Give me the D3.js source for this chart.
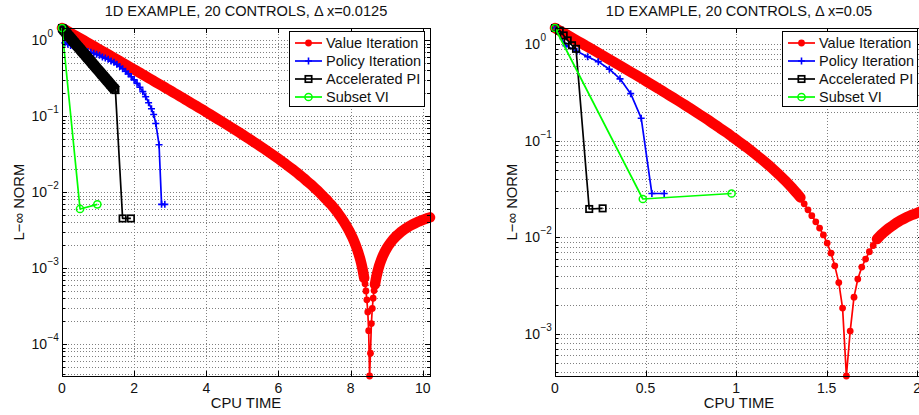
<!DOCTYPE html>
<html><head><meta charset="utf-8">
<script src="https://cdn.jsdelivr.net/npm/d3@7"></script>
<style>
body{margin:0;background:#fff}
svg{display:block}
text{font-family:"Liberation Sans",Arial,Helvetica,sans-serif;fill:#111}
</style>
</head><body>
<svg id="chart" width="919" height="415"></svg>
<script>
// ---------------- DATA ----------------
const legendLabels = ["Value Iteration", "Policy Iteration", "Accelerated PI", "Subset VI"];
const titles = ["1D EXAMPLE, 20 CONTROLS, \u0394 x=0.0125", "1D EXAMPLE, 20 CONTROLS, \u0394 x=0.05"];
const xLabel = "CPU TIME";
const yLabel = "L\u2212\u221e NORM";
const xTicksA = [0, 2, 4, 6, 8, 10];
const xTickLabelsA = ["0", "2", "4", "6", "8", "10"];
const xTicksB = [0, 0.5, 1, 1.5, 2];
const xTickLabelsB = ["0", "0.5", "1", "1.5", "2"];
const yExpA = [-4, -3, -2, -1, 0];
const yExpB = [-3, -2, -1, 0];

// Panel A (dx = 0.0125): [cpu time, L-inf norm]
const valueIterA = [[0,1.444],[0.1,1.356],[0.2,1.274],[0.3,1.197],[0.4,1.124],[0.5,1.056],[0.6,0.992],[0.7,0.931],[0.8,0.875],[0.9,0.821],[1.0,0.771],[1.1,0.724],[1.2,0.680],[1.3,0.639],[1.4,0.600],[1.5,0.563],[1.6,0.529],[1.7,0.496],[1.8,0.466],[1.9,0.437],[2.0,0.411],[2.1,0.385],[2.2,0.362],[2.3,0.339],[2.4,0.318],[2.5,0.299],[2.6,0.280],[2.7,0.263],[2.8,0.247],[2.9,0.231],[3.0,0.217],[3.1,0.203],[3.2,0.191],[3.3,0.179],[3.4,0.167],[3.5,0.157],[3.6,0.147],[3.7,0.138],[3.8,0.129],[3.9,0.121],[4.0,0.113],[4.1,0.1058],[4.2,0.0990],[4.3,0.0926],[4.4,0.0865],[4.5,0.0809],[4.6,0.0756],[4.7,0.0706],[4.8,0.0659],[4.9,0.0615],[5.0,0.0573],[5.1,0.0534],[5.2,0.0498],[5.3,0.0463],[5.4,0.0431],[5.5,0.0401],[5.6,0.0372],[5.7,0.0345],[5.8,0.0320],[5.9,0.0296],[6.0,0.0274],[6.1,0.0253],[6.2,0.0234],[6.3,0.0215],[6.4,0.0198],[6.5,0.0182],[6.6,0.0166],[6.7,0.0152],[6.8,0.0138],[6.9,0.0126],[7.0,0.0114],[7.1,0.0103],[7.2,0.0092],[7.3,0.0082],[7.35,0.00784],[7.4,0.0073],[7.45,0.00693],[7.5,0.0065],[7.55,0.00608],[7.6,0.00567],[7.65,0.00528],[7.7,0.00489],[7.75,0.00452],[7.8,0.00416],[7.85,0.00381],[7.9,0.00348],[7.95,0.00315],[8.0,0.00283],[8.05,0.00253],[8.1,0.00223],[8.125,0.00208],[8.15,0.00194],[8.175,0.0018],[8.2,0.00166],[8.225,0.00152],[8.25,0.00139],[8.275,0.00126],[8.3,0.00113],[8.325,0.000996],[8.35,0.000869],[8.375,0.000744],[8.4,0.000621],[8.425,0.0005],[8.45,0.000382],[8.475,0.000265],[8.5,0.00015],[8.525,0.000038],[8.55,0.0000759],[8.575,0.000186],[8.6,0.000294],[8.625,0.000401],[8.65,0.000506],[8.675,0.000609],[8.7,0.000711],[8.725,0.000811],[8.75,0.00091],[8.775,0.001007],[8.8,0.001102],[8.825,0.001196],[8.85,0.001289],[8.875,0.00138],[8.9,0.00147],[8.95,0.001647],[9.0,0.001816],[9.05,0.001982],[9.1,0.002141],[9.15,0.002297],[9.2,0.002446],[9.25,0.002593],[9.3,0.002732],[9.4,0.003002],[9.5,0.003255],[9.6,0.003494],[9.7,0.003717],[9.8,0.003927],[9.9,0.004124],[10.0,0.00431],[10.1,0.004484],[10.2,0.004648]];
const policyIterA = [[0,1.444],[0.08,0.92],[0.16,0.88],[0.24,0.85],[0.32,0.83],[0.4,0.8],[0.48,0.78],[0.56,0.76],[0.64,0.73],[0.72,0.71],[0.8,0.69],[0.88,0.67],[0.96,0.65],[1.04,0.63],[1.12,0.6],[1.2,0.58],[1.28,0.56],[1.36,0.53],[1.44,0.51],[1.52,0.48],[1.6,0.45],[1.68,0.42],[1.76,0.39],[1.84,0.36],[1.92,0.33],[2.0,0.3],[2.08,0.27],[2.16,0.24],[2.24,0.21],[2.32,0.18],[2.4,0.15],[2.48,0.125],[2.54,0.105],[2.6,0.08],[2.69,0.042],[2.76,0.0069],[2.85,0.0069]];
const accelPIA = [[0,1.444],[0.05,1.351],[0.1,1.268],[0.15,1.19],[0.2,1.117],[0.25,1.048],[0.3,0.983],[0.35,0.923],[0.4,0.866],[0.45,0.813],[0.5,0.763],[0.55,0.716],[0.6,0.672],[0.65,0.631],[0.7,0.592],[0.75,0.556],[0.8,0.522],[0.85,0.489],[0.9,0.459],[0.95,0.431],[1.0,0.405],[1.05,0.38],[1.1,0.356],[1.15,0.334],[1.2,0.314],[1.25,0.294],[1.3,0.276],[1.35,0.259],[1.4,0.243],[1.45,0.229],[1.48,0.22],[1.68,0.0045],[1.91,0.0045]];
const subsetVIA = [[0,1.444],[0.5,0.006],[0.98,0.0069]];

// Panel B (dx = 0.05)
const valueIterB = [[0,1.48],[0.021,1.404],[0.042,1.333],[0.064,1.264],[0.085,1.2],[0.106,1.139],[0.127,1.08],[0.148,1.025],[0.169,0.972],[0.191,0.922],[0.212,0.875],[0.233,0.829],[0.254,0.787],[0.275,0.746],[0.296,0.707],[0.318,0.67],[0.339,0.635],[0.36,0.602],[0.381,0.57],[0.402,0.54],[0.423,0.512],[0.445,0.485],[0.466,0.459],[0.487,0.435],[0.508,0.411],[0.529,0.389],[0.55,0.368],[0.572,0.348],[0.593,0.329],[0.614,0.311],[0.635,0.294],[0.656,0.278],[0.677,0.263],[0.699,0.248],[0.72,0.234],[0.741,0.221],[0.762,0.208],[0.783,0.196],[0.804,0.185],[0.826,0.174],[0.847,0.164],[0.868,0.154],[0.889,0.145],[0.91,0.136],[0.931,0.128],[0.953,0.12],[0.974,0.112],[0.995,0.105],[1.016,0.0983],[1.037,0.0918],[1.059,0.0857],[1.08,0.0798],[1.101,0.0743],[1.122,0.069],[1.143,0.0641],[1.164,0.0593],[1.186,0.0548],[1.207,0.0505],[1.228,0.0464],[1.249,0.0425],[1.27,0.0389],[1.291,0.0354],[1.313,0.032],[1.334,0.0289],[1.355,0.0259],[1.376,0.0223],[1.397,0.0193],[1.418,0.0168],[1.44,0.0145],[1.461,0.0125],[1.482,0.0106],[1.503,0.00873],[1.524,0.00687],[1.545,0.00507],[1.567,0.0034],[1.588,0.00185],[1.609,0.000366],[1.63,0.00107],[1.651,0.0024],[1.672,0.0037],[1.694,0.00492],[1.715,0.00596],[1.736,0.0071],[1.757,0.00824],[1.778,0.0096],[1.799,0.0106],[1.821,0.0115],[1.842,0.0124],[1.863,0.0132],[1.884,0.0141],[1.905,0.0149],[1.926,0.0156],[1.948,0.0164],[1.969,0.0171],[1.99,0.0176],[2.011,0.0183],[2.032,0.0189]];
const policyIterB = [[0,1.48],[0.06,0.97],[0.121,0.85],[0.18,0.747],[0.239,0.663],[0.3,0.554],[0.359,0.44],[0.418,0.309],[0.476,0.172],[0.535,0.0285],[0.603,0.0285]];
const accelPIB = [[0,1.48],[0.026,1.39],[0.048,1.24],[0.07,1.10],[0.094,0.98],[0.116,0.90],[0.189,0.0197],[0.263,0.02]];
const subsetVIB = [[0,1.48],[0.485,0.025],[0.975,0.0285]];

// ---------------- STYLE ----------------
// where markers are packed closer than the panel's band gap (px) they merge into a solid band
const styles = [
  {color:"#ff0000", marker:"dot",    bandWidth:10.5, cap:"round"},
  {color:"#0000ff", marker:"plus",   bandWidth:0,    cap:"round"},
  {color:"#000000", marker:"square", bandWidth:11.5, cap:"butt"},
  {color:"#00ff00", marker:"circle", bandWidth:0,    cap:"round"}
];

const svg = d3.select("#chart");

function drawMarker(g, type, color, px, py) {
  if (type === "dot") {
    g.append("circle").attr("cx", px).attr("cy", py).attr("r", 3.4).attr("fill", color);
  } else if (type === "plus") {
    const s = 3.5;
    g.append("path").attr("d", `M${px-s},${py}H${px+s}M${px},${py-s}V${py+s}`)
      .attr("stroke", color).attr("stroke-width", 1.6).attr("fill", "none");
  } else if (type === "square") {
    const s = 3.2;
    g.append("rect").attr("x", px-s).attr("y", py-s).attr("width", 2*s).attr("height", 2*s)
      .attr("fill", "none").attr("stroke", color).attr("stroke-width", 1.7);
  } else if (type === "circle") {
    g.append("circle").attr("cx", px).attr("cy", py).attr("r", 3.6)
      .attr("fill", "none").attr("stroke", color).attr("stroke-width", 1.5);
  }
}

function panel(cfg) {
  const g = svg.append("g");
  const all = cfg.series.flatMap(s => s);
  const x = d3.scaleLinear().domain([0, d3.max(all, d => d[0])]).range([cfg.l, cfg.r]);
  const y = d3.scaleLog().domain(d3.extent(all, d => d[1])).range([cfg.b, cfg.t]);
  const [ymin, ymax] = y.domain();
  const snap = v => Math.round(v) + 0.5;

  // grid (dotted, major + minor on log axis)
  const gridVals = [];
  for (let e = Math.floor(Math.log10(ymin)); e <= Math.ceil(Math.log10(ymax)); e++) {
    for (let k = 1; k <= 9; k++) {
      const v = k * Math.pow(10, e);
      if (v >= ymin && v <= ymax) gridVals.push({v, major: k === 1});
    }
  }
  const grid = g.append("g").attr("stroke", "#808080").attr("stroke-width", 1).attr("stroke-dasharray", "1,2");
  gridVals.forEach(d => {
    const yy = snap(y(d.v));
    grid.append("line").attr("x1", cfg.l).attr("x2", cfg.r).attr("y1", yy).attr("y2", yy);
  });
  cfg.xTicks.forEach(t => {
    if (t === 0) return;
    const xx = snap(x(t));
    grid.append("line").attr("x1", xx).attr("x2", xx).attr("y1", cfg.t).attr("y2", cfg.b);
  });

  // series
  cfg.series.forEach((data, i) => {
    const st = styles[i];
    const gap = cfg.bandGap[i];
    const pts = data.map(d => [x(d[0]), y(d[1])]);
    if (gap > 0) {
      const runs = [];
      let cur = null;
      for (let k = 1; k < pts.length; k++) {
        const len = Math.hypot(pts[k][0] - pts[k-1][0], pts[k][1] - pts[k-1][1]);
        if (len <= gap) {
          if (!cur) { cur = [pts[k-1]]; runs.push(cur); }
          cur.push(pts[k]);
        } else cur = null;
      }
      runs.forEach(r => {
        g.append("path").attr("d", d3.line()(r)).attr("fill", "none")
          .attr("stroke", st.color).attr("stroke-width", st.bandWidth)
          .attr("stroke-linecap", st.cap).attr("stroke-linejoin", "round");
      });
    }
    g.append("path").attr("d", d3.line()(pts)).attr("fill", "none")
      .attr("stroke", st.color).attr("stroke-width", 1.7).attr("stroke-linejoin", "round");
    const mg = g.append("g");
    pts.forEach(p => drawMarker(mg, st.marker, st.color, p[0], p[1]));
  });

  // axes box and ticks
  const ax = g.append("g").attr("stroke", "#000").attr("stroke-width", 1).attr("fill", "none");
  ax.append("rect").attr("x", snap(cfg.l)).attr("y", snap(cfg.t))
    .attr("width", Math.round(cfg.r) - Math.round(cfg.l)).attr("height", Math.round(cfg.b) - Math.round(cfg.t));
  cfg.xTicks.forEach(t => {
    const xx = snap(x(t));
    ax.append("line").attr("x1", xx).attr("x2", xx).attr("y1", cfg.b).attr("y2", cfg.b - 5);
    ax.append("line").attr("x1", xx).attr("x2", xx).attr("y1", cfg.t).attr("y2", cfg.t + 5);
  });
  gridVals.forEach(d => {
    const yy = snap(y(d.v));
    const len = d.major ? 5 : 3;
    ax.append("line").attr("x1", cfg.l).attr("x2", cfg.l + len).attr("y1", yy).attr("y2", yy);
    ax.append("line").attr("x1", cfg.r).attr("x2", cfg.r - len).attr("y1", yy).attr("y2", yy);
  });

  // tick labels
  cfg.xTicks.forEach((t, i) => {
    g.append("text").attr("x", x(t)).attr("y", cfg.b + 17).attr("text-anchor", "middle")
      .attr("font-size", 14).text(cfg.xTickLabels[i]);
  });
  const tenEnd = cfg.l - 15;
  cfg.yExp.forEach(e => {
    const yy = y(Math.pow(10, e));
    g.append("text").attr("x", tenEnd).attr("y", yy + 5).attr("text-anchor", "end")
      .attr("font-size", 14).text("10");
    g.append("text").attr("x", tenEnd + 0.5).attr("y", yy - 3).attr("text-anchor", "start")
      .attr("font-size", 10).text(e < 0 ? "\u2212" + (-e) : String(e));
  });

  // labels and title
  const cx = (cfg.l + cfg.r) / 2;
  g.append("text").attr("x", cx).attr("y", 16).attr("text-anchor", "middle").attr("font-size", 14.6).text(cfg.title);
  g.append("text").attr("x", cx).attr("y", 408).attr("text-anchor", "middle").attr("font-size", 14.8).text(xLabel);
  g.append("text").attr("transform", `translate(${cfg.l - 38},${(cfg.t + cfg.b) / 2}) rotate(-90)`)
    .attr("text-anchor", "middle").attr("font-size", 14.8).text(yLabel);

  // legend
  const bw = 135, bh = 75;
  const bx = Math.round(cfg.r - 6 - bw), by = Math.round(cfg.t + 3);
  const lg = g.append("g");
  lg.append("rect").attr("x", bx + 0.5).attr("y", by + 0.5).attr("width", bw).attr("height", bh)
    .attr("fill", "#fff").attr("stroke", "#000");
  legendLabels.forEach((lab, i) => {
    const cy = by + 12 + i * 18;
    const st = styles[i];
    lg.append("line").attr("x1", bx + 6).attr("x2", bx + 33).attr("y1", cy).attr("y2", cy)
      .attr("stroke", st.color).attr("stroke-width", 1.7);
    drawMarker(lg, st.marker, st.color, bx + 19.5, cy);
    lg.append("text").attr("x", bx + 37).attr("y", cy + 5).attr("font-size", 14.5).text(lab);
  });
}

panel({l: 62, r: 430, t: 28, b: 376, title: titles[0], xTicks: xTicksA, xTickLabels: xTickLabelsA, yExp: yExpA,
  bandGap: [5.5, 0, 4, 0],
  series: [valueIterA, policyIterA, accelPIA, subsetVIA]});
panel({l: 555, r: 923, t: 28, b: 376, title: titles[1], xTicks: xTicksB, xTickLabels: xTickLabelsB, yExp: yExpB,
  bandGap: [6, 0, 4, 0],
  series: [valueIterB, policyIterB, accelPIB, subsetVIB]});
</script>
</body></html>
